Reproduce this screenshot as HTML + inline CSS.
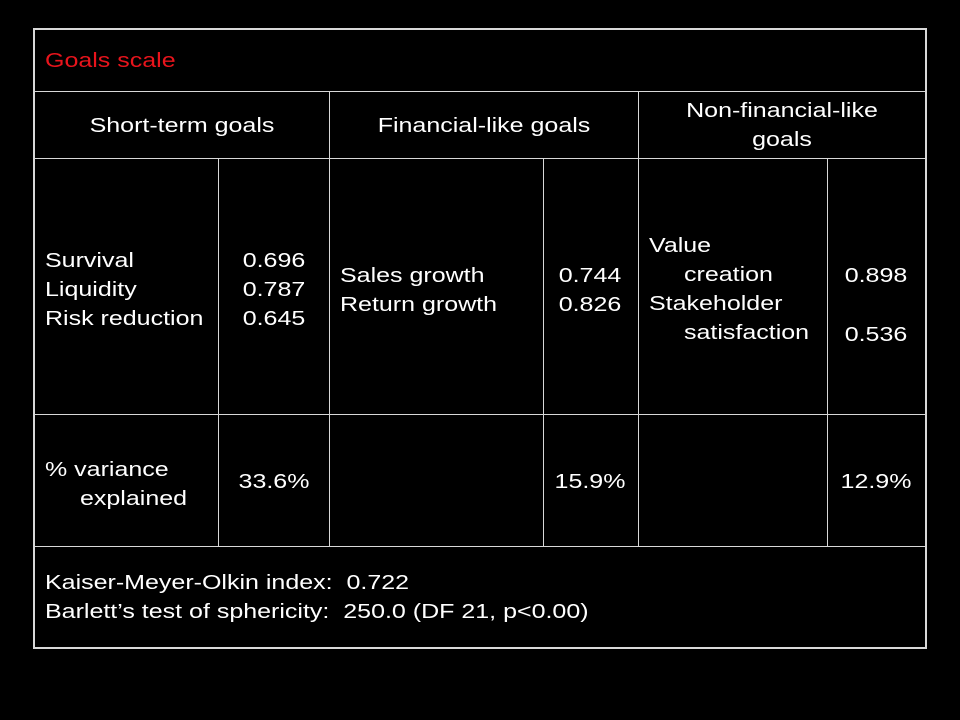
<!DOCTYPE html>
<html><head><meta charset="utf-8"><style>
body{margin:0;background:#000;width:960px;height:720px;overflow:hidden;position:relative;font-family:"Liberation Sans","DejaVu Sans",sans-serif;color:#fff;font-size:20px}
.l{position:absolute;background:#d8d8d8}
.t{position:absolute;line-height:22px;white-space:nowrap;transform-origin:0 0;transform:scaleX(1.25)}
.c{transform-origin:50% 0;transform:translateX(-50%) scaleX(1.25)}
</style></head><body>
<div class="l" style="left:33px;top:28px;width:894px;height:2px"></div>
<div class="l" style="left:33px;top:647px;width:894px;height:2px"></div>
<div class="l" style="left:33px;top:28px;width:2px;height:621px"></div>
<div class="l" style="left:925px;top:28px;width:2px;height:621px"></div>
<div class="l" style="left:33px;top:91px;width:894px;height:1px"></div>
<div class="l" style="left:33px;top:158px;width:894px;height:1px"></div>
<div class="l" style="left:33px;top:414px;width:894px;height:1px"></div>
<div class="l" style="left:33px;top:546px;width:894px;height:1px"></div>
<div class="l" style="left:329px;top:91px;width:1px;height:456px"></div>
<div class="l" style="left:638px;top:91px;width:1px;height:456px"></div>
<div class="l" style="left:218px;top:158px;width:1px;height:389px"></div>
<div class="l" style="left:543px;top:158px;width:1px;height:389px"></div>
<div class="l" style="left:827px;top:158px;width:1px;height:389px"></div>

<div class="t" style="left:45px;top:50px;color:#e8141c">Goals scale</div>
<div class="t c" style="left:182px;top:115px">Short-term goals</div>
<div class="t c" style="left:484px;top:115px">Financial-like goals</div>
<div class="t c" style="left:782px;top:97px;line-height:29px;text-align:center">Non-financial-like<br>goals</div>

<div class="t" style="left:45px;top:247px;line-height:29px">Survival<br>Liquidity<br>Risk reduction</div>
<div class="t c" style="left:274px;top:247px;line-height:29px;text-align:center">0.696<br>0.787<br>0.645</div>
<div class="t" style="left:340px;top:262px;line-height:29px">Sales growth<br>Return growth</div>
<div class="t c" style="left:590px;top:262px;line-height:29px;text-align:center">0.744<br>0.826</div>
<div class="t" style="left:649px;top:232px;line-height:29px">Value<br><span style="padding-left:28px">creation</span><br>Stakeholder<br><span style="padding-left:28px">satisfaction</span></div>
<div class="t c" style="left:876px;top:247px;line-height:59px;text-align:center">0.898<br>0.536</div>

<div class="t" style="left:45px;top:456px;line-height:29px">% variance<br><span style="padding-left:28px">explained</span></div>
<div class="t c" style="left:274px;top:471px">33.6%</div>
<div class="t c" style="left:590px;top:471px">15.9%</div>
<div class="t c" style="left:876px;top:471px">12.9%</div>

<div class="t" style="left:45px;top:572px">Kaiser-Meyer-Olkin index:&nbsp; 0.722</div>
<div class="t" style="left:45px;top:601px">Barlett’s test of sphericity:&nbsp; 250.0 (DF 21, p&lt;0.00)</div>
</body></html>
